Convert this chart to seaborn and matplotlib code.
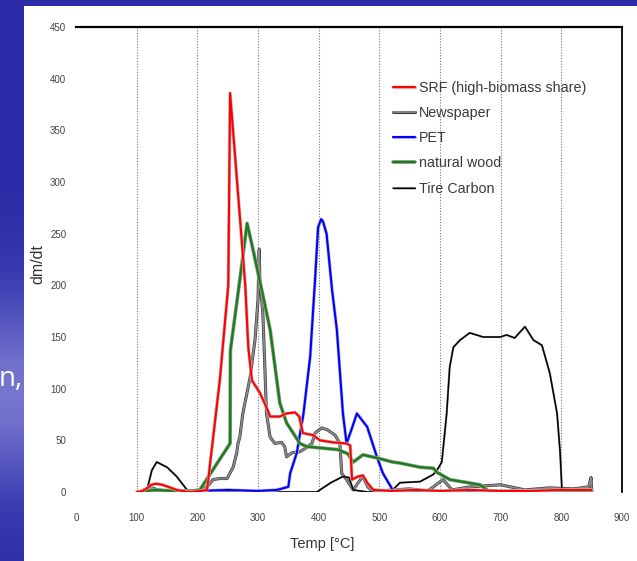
import numpy as np
import pandas as pd
import matplotlib
matplotlib.use("Agg")
import matplotlib.pyplot as plt
import matplotlib.patheffects as pe
from matplotlib.patches import Rectangle
import seaborn as sns

# ---------------- data ----------------
series_names = ["SRF (high-biomass share)", "Newspaper", "PET", "natural wood", "Tire Carbon"]

srf_T = [100, 110, 118, 124, 132, 142, 152, 166, 185, 205, 216, 237, 251, 254, 279, 284, 290, 303, 314, 320,
         336, 347, 361, 368, 374, 391, 402, 424, 446, 452, 455, 465, 473, 480, 490, 520, 560, 600, 650, 700,
         750, 800, 850]
srf_Y = [0, 1, 4, 7, 8, 7, 5, 2, 0, 1, 2, 108, 200, 386, 200, 140, 108, 96, 82, 73,
         73, 76, 77, 73, 57, 55, 50, 48, 47, 45, 12, 15, 16, 9, 2, 1, 2, 1, 2, 1,
         1, 2, 2]

news_T = [105, 115, 125, 135, 150, 170, 190, 205, 216, 226, 237, 249, 259, 265, 267, 270, 275, 287, 295, 300,
          302, 303, 308, 311, 314, 320, 328, 339, 344, 347, 356, 369, 380, 389, 394, 405, 415, 427, 435, 438,
          446, 457, 465, 473, 481, 490, 520, 550, 580, 605, 620, 650, 700, 740, 780, 820, 845, 849, 850]
news_Y = [0, 3, 4, 2, 1, 1, 0, 2, 5, 12, 13, 13, 24, 38, 47, 53, 76, 111, 147, 186,
          235, 205, 173, 125, 76, 53, 47, 48, 44, 34, 38, 39, 43, 47, 57, 62, 60, 55, 47, 18,
          12, 2, 9, 15, 5, 0, 2, 3, 1, 12, 2, 5, 7, 2, 4, 3, 5, 14, 2]

pet_T = [105, 150, 200, 250, 300, 331, 350, 353, 364, 375, 386, 394, 399, 404, 407, 413, 422, 430, 440, 446,
         455, 463, 480, 496, 506, 522, 560, 600, 650, 700, 750, 800, 850]
pet_Y = [0, 0, 1, 2, 1, 2, 5, 18, 38, 76, 131, 205, 256, 264, 262, 250, 196, 157, 76, 47,
         62, 76, 63, 34, 18, 2, 1, 0, 1, 0, 1, 0, 1]

wood_T = [105, 130, 160, 190, 204, 254, 254.5, 270, 282, 292, 306, 320, 336, 347, 369, 380, 397, 432, 448, 457,
          473, 496, 522, 534, 567, 589, 595, 616, 666, 682, 720, 780, 850]
wood_Y = [0, 2, 1, 1, 2, 47, 137, 205, 260, 234, 196, 157, 86, 67, 47, 44, 43, 41, 37, 29,
          36, 33, 29, 28, 24, 23, 19, 12, 7, 0, 1, 0, 1]

tire_T = [105, 117, 125, 133, 150, 166, 183, 220, 300, 380, 397, 420, 440, 450, 457, 480, 510, 522, 534, 567,
          589, 595, 603, 611, 616, 622, 633, 649, 671, 699, 710, 723, 740, 754, 768, 781, 793, 798, 801, 830,
          850]
tire_Y = [0, 2, 21, 29, 24, 15, 2, 0, 0, 0, 0, 9, 15, 14, 2, 0, 0, 2, 9, 10,
          17, 21, 29, 76, 121, 140, 147, 154, 150, 150, 152, 149, 160, 147, 142, 115, 76, 38, 2, 0,
          0]

x_ticks = [0, 100, 200, 300, 400, 500, 600, 700, 800, 900]
y_ticks = [0, 50, 100, 150, 200, 250, 300, 350, 400, 450]

colors = {"SRF (high-biomass share)": "#ff0000", "Newspaper": "#8a8a8a", "PET": "#0000ff",
          "natural wood": "#1a7f1a", "Tire Carbon": "#000000"}

frames = []
for name, T, Y in zip(series_names, [srf_T, news_T, pet_T, wood_T, tire_T],
                      [srf_Y, news_Y, pet_Y, wood_Y, tire_Y]):
    frames.append(pd.DataFrame({"Temp": T, "dmdt": Y, "series": name}))
df = pd.concat(frames, ignore_index=True)

# ---------------- figure ----------------
sns.set_theme(style="white")
plt.rcParams["font.family"] = ["Liberation Sans", "DejaVu Sans"]

W, H = 637, 561
fig = plt.figure(figsize=(W / 100, H / 100), dpi=100)

# slide background (blue gradient) behind the white chart panel
bg = fig.add_axes([0, 0, 1, 1], zorder=-10)
yy = np.linspace(0, 1, 200)[:, None]
top = np.array([44, 44, 168]) / 255
mid = np.array([118, 118, 208]) / 255
g = np.exp(-((yy - 0.70) / 0.17) ** 2)
grad = top[None, None, :] * (1 - g[..., None]) + mid[None, None, :] * g[..., None]
grad = np.repeat(grad, 20, axis=1)
bg.imshow(grad, aspect="auto", extent=[0, 1, 0, 1], origin="upper")
bg.set_axis_off()

fig.text(23 / W, 1 - 386 / H, "n,", ha="right", va="baseline", fontsize=20, color="white",
         family=["Open Sans", "DejaVu Sans"], zorder=-5)
fig.add_artist(Rectangle((24 / W, 0), 1, 1 - 6 / H, transform=fig.transFigure,
                         facecolor="white", edgecolor="none", zorder=-4))

ax = fig.add_axes([76 / W, 69 / H, 546 / W, 465 / H])
ax.set_facecolor("white")

sns.lineplot(data=df, x="Temp", y="dmdt", hue="series", hue_order=series_names,
             palette=colors, estimator=None, sort=False, legend=False, ax=ax)

widths = {"SRF (high-biomass share)": 1.5, "Newspaper": 1.3, "PET": 1.5,
          "natural wood": 1.7, "Tire Carbon": 1.0}
strokes = {"SRF (high-biomass share)": ("#c8b4b4", 2.4), "Newspaper": ("#3a3a3a", 2.2),
           "PET": ("#b4b4c8", 2.4), "natural wood": ("#a0a0a0", 2.7), "Tire Carbon": ("#808080", 1.5)}
zorders = {"SRF (high-biomass share)": 5, "Newspaper": 2, "PET": 3, "natural wood": 4, "Tire Carbon": 2.5}
lines = ax.lines[:5]
for ln, name in zip(lines, series_names):
    ln.set_linewidth(widths[name])
    fc, lw = strokes[name]
    ln.set_path_effects([pe.Stroke(linewidth=lw, foreground=fc), pe.Normal()])
    ln.set_zorder(zorders[name])

ax.set_xlim(0, 900)
ax.set_ylim(0, 450)
ax.set_xticks(x_ticks)
ax.set_yticks(y_ticks)
ax.set_xticklabels([str(v) for v in x_ticks])
ax.set_yticklabels([str(v) for v in y_ticks])
ax.tick_params(axis="x", length=0, pad=15, labelsize=7, labelcolor="#444444")
ax.tick_params(axis="y", length=0, pad=7, labelsize=7, labelcolor="#444444")

ax.xaxis.grid(True, linestyle=(0, (1, 1.5)), color="#777777", linewidth=0.8)
ax.yaxis.grid(False)
gl = ax.get_xgridlines()
gl[0].set_visible(False)
gl[-1].set_visible(False)

for side in ["left", "bottom"]:
    ax.spines[side].set_visible(False)
ax.spines["top"].set_visible(True)
ax.spines["top"].set_color("black")
ax.spines["top"].set_linewidth(1.6)
ax.spines["right"].set_visible(True)
ax.spines["right"].set_color("black")
ax.spines["right"].set_linewidth(1.3)

ax.set_xlabel("Temp [°C]", fontsize=10.5, color="#333333")
ax.xaxis.set_label_coords((322 - 76) / 546, (492 - 537) / 465)
ax.set_ylabel("dm/dt", fontsize=11.5, color="#333333")
ax.yaxis.set_label_coords((45 - 76) / 546, (492 - 264) / 465)

leg = ax.legend(lines, series_names, loc="upper left",
                bbox_to_anchor=((393 - 76) / 546, (492 - 81) / 465),
                frameon=False, fontsize=10.3, handlelength=1.55, handletextpad=0.25,
                labelspacing=0.78, borderaxespad=0, borderpad=0)
for t in leg.get_texts():
    t.set_color("#3a3a3a")

fig.savefig("out.png", dpi=100)
